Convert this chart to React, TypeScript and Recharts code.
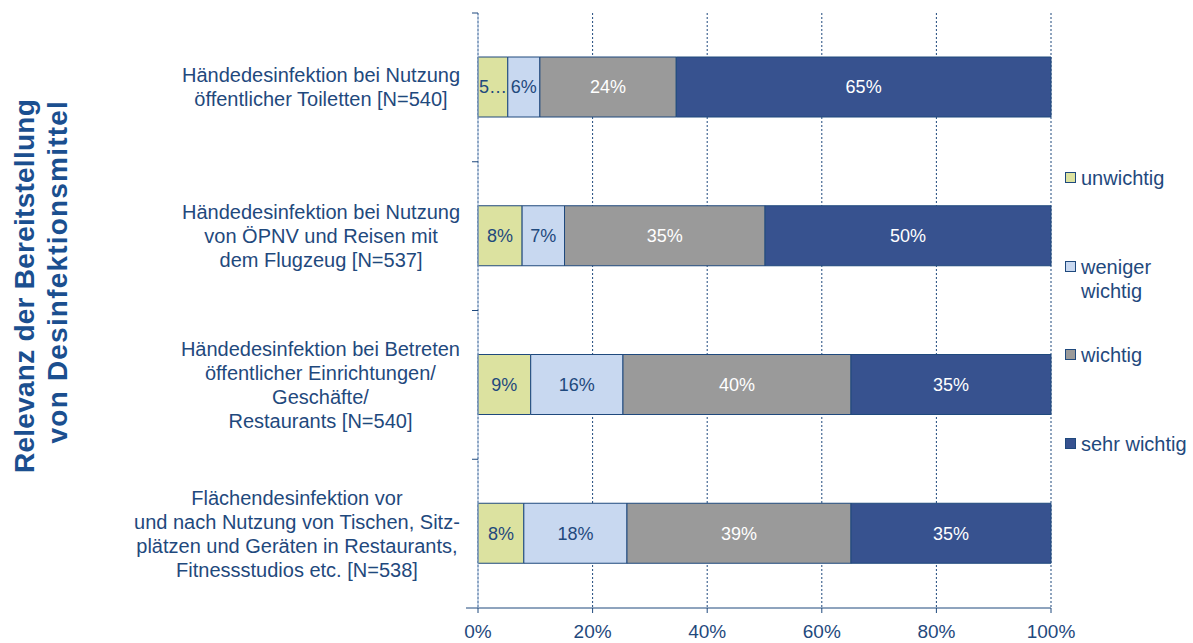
import React from 'react';
import { BarChart, Bar, XAxis, YAxis, CartesianGrid, LabelList, Legend, Label } from 'recharts';

const CATEGORIES = [
  'Händedesinfektion bei Nutzung\nöffentlicher Toiletten [N=540]',
  'Händedesinfektion bei Nutzung\nvon ÖPNV und Reisen mit\ndem Flugzeug [N=537]',
  'Händedesinfektion bei Betreten\nöffentlicher Einrichtungen/\nGeschäfte/\nRestaurants [N=540]',
  'Flächendesinfektion vor\nund nach Nutzung von Tischen, Sitz-\nplätzen und Geräten in Restaurants,\nFitnessstudios etc. [N=538]',
];
const UNWICHTIG = [5.2, 7.7, 9.2, 8.0];
const WENIGER_WICHTIG = [5.6, 7.4, 16.1, 18.0];
const WICHTIG = [23.8, 35.0, 39.8, 39.1];
const SEHR_WICHTIG = [65.4, 49.9, 34.9, 34.9];
const X_TICKS = [0, 20, 40, 60, 80, 100];

const SERIES = [
  { key: 'unwichtig', name: 'unwichtig', values: UNWICHTIG, color: '#dce2a0', label: '#1f497d' },
  { key: 'weniger', name: 'weniger wichtig', values: WENIGER_WICHTIG, color: '#c8d8f0', label: '#1f497d' },
  { key: 'wichtig', name: 'wichtig', values: WICHTIG, color: '#9a9a9a', label: '#ffffff' },
  { key: 'sehr', name: 'sehr wichtig', values: SEHR_WICHTIG, color: '#37528f', label: '#ffffff' },
];

const data = CATEGORIES.map((cat, i) => {
  const row: Record<string, any> = { cat };
  SERIES.forEach((s) => { row[s.key] = s.values[i]; });
  return row;
});

const FONT = "'Liberation Sans', Arial, sans-serif";
const TEXT = '#1f497d';
const BORDER = '#1f497d';

let ctx: CanvasRenderingContext2D | null = null;
function measure(text: string, size: number) {
  if (!ctx) ctx = document.createElement('canvas').getContext('2d');
  if (!ctx) return text.length * size * 0.5;
  ctx.font = `${size}px 'Liberation Sans'`;
  return ctx.measureText(text).width;
}

function CategoryTick(props: any) {
  const { x, y, payload, index } = props;
  const half = payload.offset ?? 74;
  const lines = String(payload.value).split('\n');
  const maxW = Math.max(...lines.map((l) => measure(l, 20)));
  const cx = x - 18 - maxW / 2;
  const lh = 24;
  const last = index === CATEGORIES.length - 1;
  return (
    <g>
      <line x1={x - 6} x2={x} y1={y - half} y2={y - half} stroke={BORDER} />
      {last && <line x1={x - 12} x2={x} y1={y + half} y2={y + half} stroke={BORDER} />}
      <text x={cx} y={y} textAnchor="middle" fill={TEXT} fontSize={20} fontFamily={FONT}>
        {lines.map((l, i) => (
          <tspan key={i} x={cx} y={y + (i - (lines.length - 1) / 2) * lh} dy="0.35em">
            {l}
          </tspan>
        ))}
      </text>
    </g>
  );
}

function makeBarLabel(color: string) {
  return (props: any) => {
    const { x, y, width, height, value } = props;
    if (value == null) return null;
    let text = `${Math.round(value)}%`;
    // Excel cuts labels that do not fit the segment
    if (width < 31) text = `${text[0]}…`;
    return (
      <text
        x={x + width / 2}
        y={y + height / 2}
        dy="0.35em"
        textAnchor="middle"
        fill={color}
        fontSize={18}
        fontFamily={FONT}
      >
        {text}
      </text>
    );
  };
}

function YTitle() {
  return (
    <g fill="#1b4f8f" fontSize={28} fontWeight="bold" fontFamily={FONT}>
      <text x={34} y={99} textAnchor="end" letterSpacing={0.25} transform="rotate(-90, 34, 99)">
        Relevanz der Bereitstellung
      </text>
      <text x={67} y={100} textAnchor="end" letterSpacing={1.2} transform="rotate(-90, 67, 100)">
        von Desinfektionsmittel
      </text>
    </g>
  );
}

function LegendContent() {
  return (
    <div style={{ fontFamily: FONT, fontSize: 20, color: TEXT }}>
      {SERIES.map((s) => (
        <div key={s.key} style={{ height: 88.5, display: 'flex', alignItems: 'flex-start' }}>
          <span
            style={{
              width: 9,
              height: 9,
              marginTop: 6,
              marginRight: 5,
              flex: 'none',
              background: s.color,
              border: `1px solid ${BORDER}`,
            }}
          />
          <span style={{ lineHeight: '24px', width: 111 }}>{s.name}</span>
        </div>
      ))}
    </div>
  );
}

export default function App() {
  return (
    <div style={{ width: 1193, height: 643 }}>
      <style>{'body{margin:0}'}</style>
      <BarChart
        width={1193}
        height={643}
        data={data}
        layout="vertical"
        margin={{ top: 13, right: 142, bottom: 0, left: 0 }}
        style={{ fontFamily: FONT }}
      >
        <CartesianGrid horizontal={false} stroke={TEXT} strokeDasharray="2 2" />
        <XAxis
          type="number"
          domain={[0, 100]}
          ticks={X_TICKS}
          interval={0}
          height={35}
          tickFormatter={(v) => `${v}%`}
          tick={{ fill: TEXT, fontSize: 19, fontFamily: FONT }}
          tickSize={5}
          tickMargin={12}
          axisLine={{ stroke: BORDER }}
          tickLine={{ stroke: BORDER }}
        />
        <YAxis
          type="category"
          dataKey="cat"
          width={478}
          interval={0}
          tickSize={0}
          tickMargin={0}
          tickLine={false}
          axisLine={{ stroke: '#8eaacd' }}
          tick={<CategoryTick />}
        >
          <Label content={<YTitle />} />
        </YAxis>
        <Legend
          layout="horizontal"
          verticalAlign="middle"
          align="center"
          content={<LegendContent />}
          wrapperStyle={{ left: 1065, top: 166, width: 128 }}
        />
        {SERIES.map((s) => (
          <Bar
            key={s.key}
            dataKey={s.key}
            name={s.name}
            stackId="a"
            fill={s.color}
            stroke={BORDER}
            strokeWidth={1}
            barSize={60}
            isAnimationActive={false}
          >
            <LabelList dataKey={s.key} content={makeBarLabel(s.label)} />
          </Bar>
        ))}
      </BarChart>
    </div>
  );
}
